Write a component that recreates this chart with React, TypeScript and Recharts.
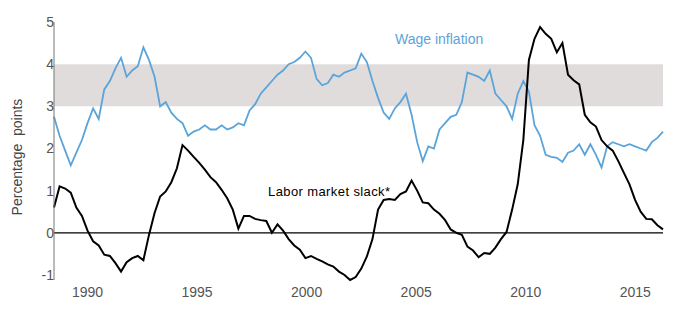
import {
  LineChart,
  Line,
  XAxis,
  YAxis,
  ReferenceArea,
  ReferenceLine,
} from "recharts";

// roughly quarterly readings, mid-1988 to early 2016
const START_YEAR = 1988.47;
const STEP = 0.255;

// labor market slack (black line)
const slack = [
  0.6, 1.1, 1.05, 0.95, 0.6, 0.4, 0.05, -0.2, -0.3, -0.52,
  -0.55, -0.72, -0.92, -0.7, -0.6, -0.55, -0.65, -0.05, 0.47, 0.86,
  0.98, 1.2, 1.53, 2.08, 1.95, 1.8, 1.66, 1.5, 1.32, 1.2,
  1.02, 0.82, 0.55, 0.1, 0.4, 0.4, 0.33, 0.3, 0.28, 0.0,
  0.2, 0.05, -0.15, -0.3, -0.4, -0.6, -0.55, -0.62, -0.68, -0.75,
  -0.8, -0.92, -1.0, -1.12, -1.05, -0.85, -0.56, -0.15, 0.55, 0.78,
  0.8, 0.78, 0.92, 0.98, 1.24, 1.0, 0.72, 0.7, 0.55, 0.45,
  0.3, 0.08, 0.0, -0.05, -0.33, -0.42, -0.58, -0.48, -0.5, -0.35,
  -0.15, 0.02, 0.55, 1.15, 2.2, 4.1, 4.6, 4.88, 4.72, 4.6,
  4.28, 4.5, 3.75, 3.62, 3.52, 2.8, 2.62, 2.52, 2.2, 2.05,
  1.95, 1.7, 1.42, 1.15, 0.78, 0.5, 0.33, 0.32, 0.18, 0.08,
];

// wage inflation (blue line)
const wage = [
  2.75, 2.3, 1.95, 1.6, 1.9, 2.2, 2.6, 2.95, 2.7, 3.4,
  3.6, 3.9, 4.15, 3.7, 3.85, 3.95, 4.4, 4.1, 3.7, 3.0,
  3.1, 2.85, 2.7, 2.6, 2.3, 2.4, 2.45, 2.55, 2.45, 2.45,
  2.55, 2.45, 2.5, 2.6, 2.55, 2.9, 3.05, 3.3, 3.45, 3.6,
  3.75, 3.85, 4.0, 4.05, 4.15, 4.3, 4.15, 3.65, 3.5, 3.55,
  3.75, 3.7, 3.8, 3.85, 3.9, 4.25, 4.05, 3.6, 3.2, 2.85,
  2.7, 2.95, 3.1, 3.3, 2.8, 2.15, 1.7, 2.05, 2.0, 2.45,
  2.6, 2.75, 2.8, 3.1, 3.8, 3.75, 3.7, 3.6, 3.85, 3.3,
  3.15, 3.0, 2.7, 3.3, 3.6, 3.35, 2.55, 2.3, 1.85, 1.8,
  1.78, 1.68, 1.9, 1.95, 2.1, 1.85, 2.1, 1.85, 1.55, 2.05,
  2.15, 2.1, 2.05, 2.1, 2.05, 2.0, 1.95, 2.15, 2.25, 2.4,
];

const xTicks = [1990, 1995, 2000, 2005, 2010, 2015];
const yTicks = [-1, 0, 1, 2, 3, 4, 5];
const normalRange = [3, 4];

const data = slack.map((v, i) => ({
  year: START_YEAR + i * STEP,
  slack: v,
  wage: wage[i],
}));

const FONT = "'Liberation Sans', Arial, sans-serif";
const BLUE = "#5ba4da";

export default function App() {
  return (
    <div style={{ position: "absolute", left: 0, top: 0, fontFamily: FONT }}>
      <LineChart
        width={682}
        height={322}
        data={data}
        margin={{ top: 22, right: 19, bottom: 0, left: 0 }}
      >
        <ReferenceArea
          y1={normalRange[0]}
          y2={normalRange[1]}
          fill="#e0dcdc"
          fillOpacity={1}
          stroke="none"
        />
        <ReferenceLine y={0} stroke="#000" strokeWidth={1.2} />
        <XAxis
          dataKey="year"
          type="number"
          domain={[START_YEAR, START_YEAR + (slack.length - 1) * STEP]}
          ticks={xTicks}
          axisLine={false}
          tickLine={false}
          tickMargin={1}
          height={42}
          tick={{ fill: "#555", fontSize: 14, fontFamily: FONT }}
        />
        <YAxis
          domain={[-1, 5]}
          ticks={yTicks}
          width={54}
          axisLine={{ stroke: "#777" }}
          tickLine={false}
          tickSize={0}
          tickMargin={0}
          tick={{ fill: "#555", fontSize: 14, fontFamily: FONT }}
        />
        <Line
          type="linear"
          dataKey="wage"
          stroke={BLUE}
          strokeWidth={1.8}
          dot={false}
          isAnimationActive={false}
        />
        <Line
          type="linear"
          dataKey="slack"
          stroke="#000"
          strokeWidth={2}
          dot={false}
          isAnimationActive={false}
        />
        <text
          x={17}
          y={157}
          transform="rotate(-90 17 157)"
          textAnchor="middle"
          dominantBaseline="central"
          fill="#444"
          fontSize={14}
          fontFamily={FONT}
          style={{ whiteSpace: "pre" }}
        >
          Percentage  points
        </text>
        <text x={170} y={85} dominantBaseline="central" fill="#8a8a8a" fontSize={14} fontFamily={FONT}>
          Normal range
        </text>
        <text x={395} y={39} dominantBaseline="central" fill={BLUE} fontSize={14} fontFamily={FONT}>
          Wage inflation
        </text>
        <text
          x={268}
          y={191}
          dominantBaseline="central"
          fill="#000"
          fontSize={13}
          fontFamily={FONT}
          letterSpacing={0.4}
        >
          Labor market slack*
        </text>
      </LineChart>
    </div>
  );
}
